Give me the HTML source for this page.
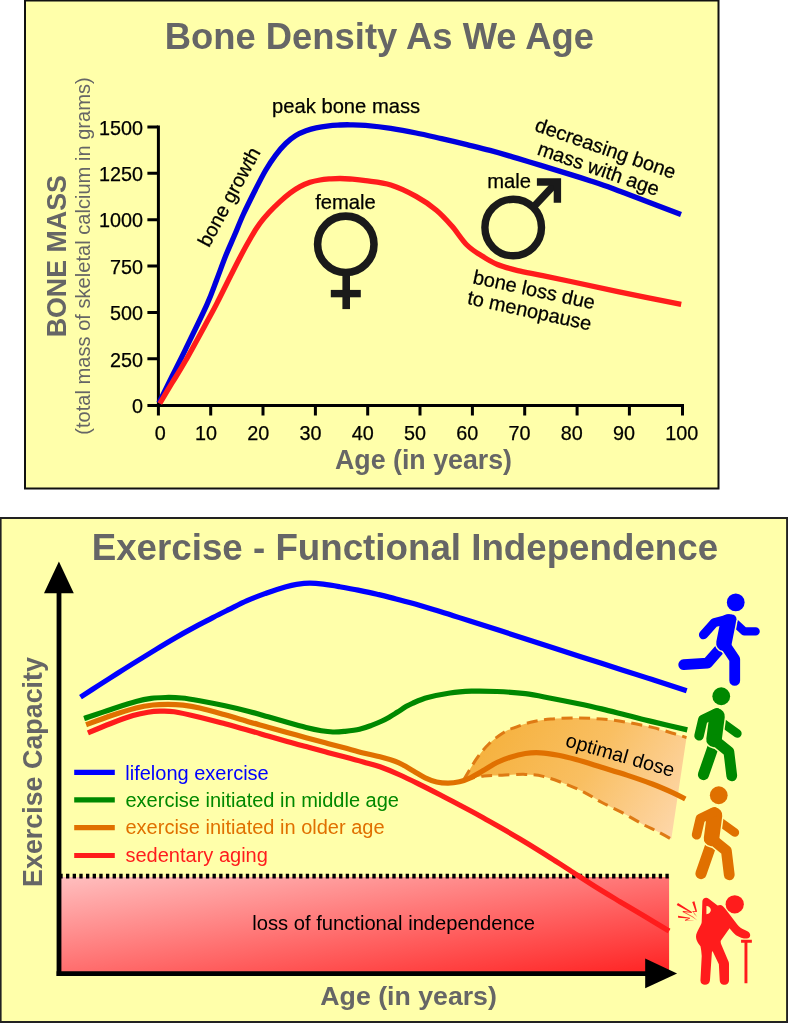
<!DOCTYPE html>
<html><head><meta charset="utf-8">
<style>
html,body{margin:0;padding:0;background:#fff;}
svg{display:block;will-change:transform;}
text{font-family:"Liberation Sans",sans-serif;}
.tk{font-size:19.8px;fill:#000;stroke:#000;stroke-width:0.25px;}
.lb{font-size:20.2px;fill:#000;stroke:#000;stroke-width:0.25px;}
</style></head>
<body>
<svg width="788" height="1023" viewBox="0 0 788 1023">
<!-- ===== TOP PANEL ===== -->
<rect x="25" y="0.5" width="693.5" height="488" fill="#ffffaa" stroke="#111" stroke-width="2"/>
<text x="379.4" y="48.7" text-anchor="middle" font-size="36.4" font-weight="bold" fill="#666">Bone Density As We Age</text>
<!-- axes -->
<g stroke="#000" stroke-width="3" fill="none">
<path d="M158.4 125.4V415.5"/>
<path d="M147.4 405.5H684"/>
<path d="M147.4 126.9H158M147.4 173.3H158M147.4 219.7H158M147.4 266.1H158M147.4 312.5H158M147.4 358.8H158"/>
<path d="M210.7 405V415.5M263 405V415.5M315.4 405V415.5M367.7 405V415.5M420 405V415.5M472.4 405V415.5M524.7 405V415.5M577.1 405V415.5M629.4 405V415.5M682.5 405V415.5"/>
</g>
<g class="tk" text-anchor="end" transform="translate(0.9 0.7)">
<text x="142" y="134">1500</text><text x="142" y="180.4">1250</text><text x="142" y="226.8">1000</text>
<text x="142" y="273.2">750</text><text x="142" y="319.6">500</text><text x="142" y="366">250</text><text x="142" y="412.3">0</text>
</g>
<g class="tk" text-anchor="middle">
<text x="160.2" y="439.5">0</text><text x="206.1" y="439.5">10</text><text x="258.3" y="439.5">20</text><text x="310.6" y="439.5">30</text><text x="362.8" y="439.5">40</text><text x="415.0" y="439.5">50</text><text x="467.2" y="439.5">60</text><text x="519.5" y="439.5">70</text><text x="571.7" y="439.5">80</text><text x="623.9" y="439.5">90</text><text x="681.7" y="439.5">100</text>
</g>
<!-- curves -->
<path id="blue1" d="M158.9 403.0 C161.1 398.6 167.6 385.4 172.0 376.5 C176.4 367.6 179.7 361.2 185.5 349.3 C191.3 337.4 201.6 316.4 206.8 304.9 C212.0 293.3 213.4 288.4 216.6 280.0 C219.8 271.6 223.1 262.2 226.1 254.8 C229.1 247.4 231.6 242.1 234.5 235.3 C237.4 228.5 240.0 221.6 243.5 214.0 C247.0 206.4 251.8 196.8 255.5 189.5 C259.2 182.2 262.2 176.2 265.5 170.5 C268.8 164.8 272.1 159.8 275.5 155.3 C278.9 150.8 282.3 146.8 285.7 143.5 C289.1 140.2 292.4 137.6 295.8 135.5 C299.2 133.4 302.6 132.1 306.0 130.8 C309.4 129.5 312.3 128.6 316.1 127.8 C319.9 127.0 324.8 126.3 328.8 125.8 C332.8 125.3 336.5 125.2 340.0 125.0 C343.5 124.8 345.8 124.7 350.0 124.8 C354.2 124.9 358.6 124.8 365.4 125.4 C372.2 126.0 382.4 127.1 390.8 128.4 C399.2 129.7 407.7 131.3 416.1 133.0 C424.6 134.7 433.0 136.7 441.5 138.6 C450.0 140.5 458.8 142.6 466.9 144.6 C475.0 146.6 481.5 148.1 490.0 150.4 C498.5 152.7 509.2 155.9 517.7 158.4 C526.2 160.9 532.1 162.7 540.8 165.4 C549.5 168.1 561.8 171.9 570.0 174.4 C578.2 176.9 583.0 178.4 590.0 180.7 C597.0 183.0 604.4 185.4 612.0 188.2 C619.6 191.0 624.3 192.9 635.8 197.3 C647.3 201.7 673.5 211.6 681.0 214.5" fill="none" stroke="#0000dd" stroke-width="5.3" stroke-linejoin="round"/>
<path id="red1" d="M159.8 403.5 C161.8 400.1 167.7 390.1 172.0 383.0 C176.3 375.9 179.1 372.1 185.5 360.8 C191.9 349.6 204.8 325.7 210.4 315.5 C216.0 305.3 215.8 305.4 218.8 299.5 C221.8 293.6 224.9 287.2 228.5 280.0 C232.1 272.8 236.8 263.4 240.6 256.2 C244.4 248.9 248.3 242.0 251.5 236.5 C254.7 231.0 257.1 227.3 260.0 223.3 C262.9 219.3 265.7 216.1 269.0 212.5 C272.3 208.9 276.5 204.8 280.0 201.6 C283.5 198.4 286.7 195.6 290.0 193.1 C293.3 190.6 296.7 188.4 300.0 186.6 C303.3 184.8 306.7 183.4 310.0 182.3 C313.3 181.2 316.5 180.6 320.0 180.0 C323.5 179.4 327.7 179.1 331.0 178.8 C334.3 178.6 336.8 178.5 340.0 178.5 C343.2 178.5 345.8 178.6 350.0 179.0 C354.2 179.4 358.6 179.7 365.4 180.7 C372.2 181.7 382.4 182.4 390.8 185.0 C399.2 187.6 408.5 192.2 416.1 196.4 C423.7 200.6 430.5 205.3 436.4 210.2 C442.3 215.1 446.6 220.0 451.7 225.8 C456.8 231.6 461.8 239.9 466.9 245.0 C472.0 250.1 477.0 252.9 482.1 256.1 C487.2 259.4 491.5 262.1 497.4 264.5 C503.3 266.9 510.6 268.8 517.7 270.6 C524.8 272.4 531.1 273.3 540.0 275.1 C548.9 276.9 557.2 278.6 570.8 281.5 C584.4 284.4 603.1 288.6 621.5 292.4 C639.9 296.2 671.2 302.3 681.2 304.3" fill="none" stroke="#ff1c1c" stroke-width="5.3" stroke-linejoin="round"/>


<!-- labels top -->
<g class="lb">
<text x="346.1" y="112.9" text-anchor="middle">peak bone mass</text>
<text transform="translate(208.9 248.2) rotate(-61.5)" style="font-size:19.9px">bone growth</text>
<text x="345.5" y="208.9" text-anchor="middle">female</text>
<text x="509.1" y="187.6" text-anchor="middle">male</text>
<g transform="translate(603.4 154.8) rotate(19.2)" text-anchor="middle" style="font-size:19.95px"><text y="0">decreasing bone</text><text y="21.5">mass with age</text></g>
<g transform="translate(532.7 296.3) rotate(12.2)" text-anchor="middle" style="font-size:19.95px"><text y="0">bone loss due</text><text y="21.4">to menopause</text></g>
</g>
<text transform="translate(65.8 256.2) rotate(-90)" text-anchor="middle" font-size="26.8" font-weight="bold" fill="#666">BONE MASS</text>
<text transform="translate(89.6 256) rotate(-90)" text-anchor="middle" font-size="20.1" fill="#666">(total mass of skeletal calcium in grams)</text>
<text x="423.5" y="468.8" text-anchor="middle" font-size="26.75" font-weight="bold" fill="#666">Age (in years)</text>
<!-- female symbol -->
<g stroke="#1a1a1a" fill="none" stroke-width="7.6">
<circle cx="345.8" cy="244.3" r="28.2"/>
<path d="M346.2 272V309.1"/>
<path d="M330.8 293.6H360.8" stroke-width="7.4"/>
</g>
<!-- male symbol -->
<g stroke="#1a1a1a" fill="none" stroke-width="7.4">
<circle cx="513.2" cy="227.5" r="28.3"/>
<path d="M533 207.5L556 183"/>
<path d="M536.9 182H557.4V202.7" stroke-linejoin="miter"/>
</g>

<!-- ===== BOTTOM PANEL ===== -->
<rect x="0.6" y="518" width="786.5" height="504" fill="#ffffaa" stroke="#222" stroke-width="2"/>

<defs>
<linearGradient id="rg" gradientUnits="userSpaceOnUse" x1="61" y1="878" x2="86.8" y2="1057">
<stop offset="0" stop-color="#ffbebe"/><stop offset="1" stop-color="#ff2222"/>
</linearGradient>
<linearGradient id="og" gradientUnits="userSpaceOnUse" x1="480" y1="725" x2="680" y2="845">
<stop offset="0" stop-color="#f5b03a"/><stop offset="0.5" stop-color="#f9bf62"/><stop offset="1" stop-color="#fed9b0"/>
</linearGradient>
</defs>
<text x="404.9" y="560.4" text-anchor="middle" font-size="36.72" font-weight="bold" fill="#666">Exercise - Functional Independence</text>
<!-- red zone -->
<rect x="60" y="877" width="609.1" height="96" fill="url(#rg)"/>
<path d="M59.35 876.1H672" stroke="#000" stroke-width="4.9" stroke-dasharray="3.33 3.33" fill="none"/>
<!-- optimal dose region -->
<path d="M463.9 779.5 C466.0 776.0 472.4 764.7 476.6 758.7 C480.8 752.7 484.7 748.0 489.3 743.5 C493.9 739.0 500.2 734.7 504.5 732.0 C508.8 729.3 510.9 729.0 515.2 727.4 C519.5 725.8 524.6 723.7 530.5 722.3 C536.4 720.9 543.2 719.7 550.8 719.0 C558.4 718.3 567.6 718.0 576.1 718.0 C584.6 718.0 593.0 718.3 601.5 719.0 C610.0 719.7 618.4 720.9 626.9 722.3 C635.4 723.7 644.7 725.6 652.3 727.4 C659.9 729.2 666.9 731.5 672.6 733.2 C678.3 734.9 684.2 736.9 686.5 737.6 L671.3 839.1 C669.0 837.8 662.3 834.0 657.4 831.5 C652.5 829.0 648.0 827.1 642.1 823.9 C636.2 820.7 628.6 816.0 621.8 812.4 C615.0 808.8 607.8 805.7 601.5 802.3 C595.2 798.9 590.1 795.3 583.8 792.1 C577.5 788.9 570.3 785.8 563.5 783.2 C556.7 780.6 549.5 777.9 543.1 776.4 C536.8 774.9 532.2 774.6 525.4 774.4 C518.5 774.2 508.9 775.0 502.0 775.2 C495.1 775.5 490.6 775.2 484.2 775.9 C477.8 776.6 467.3 778.9 463.9 779.5 Z" fill="url(#og)"/>
<path d="M463.9 779.5 C466.0 776.0 472.4 764.7 476.6 758.7 C480.8 752.7 484.7 748.0 489.3 743.5 C493.9 739.0 500.2 734.7 504.5 732.0 C508.8 729.3 510.9 729.0 515.2 727.4 C519.5 725.8 524.6 723.7 530.5 722.3 C536.4 720.9 543.2 719.7 550.8 719.0 C558.4 718.3 567.6 718.0 576.1 718.0 C584.6 718.0 593.0 718.3 601.5 719.0 C610.0 719.7 618.4 720.9 626.9 722.3 C635.4 723.7 644.7 725.6 652.3 727.4 C659.9 729.2 666.9 731.5 672.6 733.2 C678.3 734.9 684.2 736.9 686.5 737.6" fill="none" stroke="#de7a14" stroke-width="3" stroke-dasharray="11 6.5"/>
<path d="M463.9 779.5 C467.3 778.9 477.8 776.6 484.2 775.9 C490.6 775.2 495.1 775.5 502.0 775.2 C508.9 775.0 518.5 774.2 525.4 774.4 C532.2 774.6 536.8 774.9 543.1 776.4 C549.5 777.9 556.7 780.6 563.5 783.2 C570.3 785.8 577.5 788.9 583.8 792.1 C590.1 795.3 595.2 798.9 601.5 802.3 C607.8 805.7 615.0 808.8 621.8 812.4 C628.6 816.0 636.2 820.7 642.1 823.9 C648.0 827.1 652.5 829.0 657.4 831.5 C662.3 834.0 669.0 837.8 671.3 839.1" fill="none" stroke="#de7a14" stroke-width="3" stroke-dasharray="11 6.5"/>
<!-- curves -->
<g fill="none" stroke-width="5.2" stroke-linejoin="round">
<path d="M84.1 718.5 C88.5 717.0 102.1 712.2 110.8 709.4 C119.5 706.6 129.4 703.3 136.1 701.5 C142.8 699.7 146.3 699.1 151.2 698.4 C156.1 697.7 160.3 697.6 165.4 697.5 C170.5 697.4 176.0 697.5 181.7 698.0 C187.4 698.5 192.4 699.4 199.6 700.7 C206.8 702.0 216.8 704.0 225.0 705.8 C233.2 707.6 241.8 709.6 249.0 711.4 C256.2 713.2 261.8 715.0 268.1 716.8 C274.5 718.6 280.8 720.5 287.1 722.3 C293.4 724.1 300.4 726.1 306.1 727.5 C311.8 728.9 316.9 730.0 321.4 730.8 C325.8 731.5 329.0 731.9 332.8 732.0 C336.6 732.1 339.8 731.9 344.2 731.4 C348.6 730.9 355.1 730.2 359.5 729.2 C363.9 728.2 367.1 727.0 370.9 725.6 C374.6 724.2 378.8 722.5 382.0 721.0 C385.2 719.5 387.5 718.2 390.0 716.8 C392.5 715.3 394.5 714.0 397.2 712.3 C399.9 710.6 403.5 708.1 406.0 706.6 C408.5 705.1 408.8 704.8 412.4 703.3 C416.0 701.8 421.4 699.3 427.7 697.6 C434.0 695.9 442.7 694.1 450.0 693.0 C457.3 691.9 463.7 691.5 471.5 691.2 C479.3 691.0 487.9 691.1 496.9 691.5 C505.9 691.9 516.4 692.6 525.4 693.7 C534.4 694.8 542.3 696.6 550.8 698.2 C559.2 699.8 567.6 701.5 576.1 703.3 C584.6 705.1 593.0 706.9 601.5 708.9 C610.0 710.9 618.4 713.1 626.9 715.2 C635.4 717.3 642.2 719.2 652.3 721.6 C662.4 724.0 681.5 728.5 687.3 729.9" stroke="#008800"/>
<path d="M86.1 724.8 C90.2 723.3 102.5 718.6 110.8 715.8 C119.1 713.0 129.1 709.8 136.1 708.0 C143.1 706.2 147.7 705.6 153.0 705.0 C158.3 704.4 163.0 704.4 168.0 704.4 C173.0 704.4 177.7 704.6 183.0 705.2 C188.3 705.8 192.6 706.4 199.6 708.0 C206.6 709.6 216.8 712.5 225.0 714.8 C233.2 717.1 241.8 719.8 249.0 721.9 C256.2 724.0 261.8 725.4 268.1 727.2 C274.5 729.0 280.8 730.8 287.1 732.5 C293.4 734.2 299.8 736.0 306.1 737.7 C312.5 739.4 318.9 741.1 325.2 742.8 C331.5 744.5 337.8 746.1 344.2 747.8 C350.6 749.5 357.3 751.4 363.3 752.9 C369.3 754.4 374.7 755.4 380.0 756.8 C385.3 758.2 391.3 760.0 395.0 761.3 C398.7 762.6 399.2 762.9 402.3 764.5 C405.4 766.1 410.0 769.0 413.8 771.2 C417.6 773.4 421.4 776.0 425.2 777.8 C429.0 779.6 432.8 781.1 436.6 782.0 C440.4 782.9 444.2 783.2 448.0 783.2 C451.8 783.2 455.6 782.7 459.4 781.8 C463.2 780.9 466.8 779.5 470.9 777.6 C475.0 775.7 479.9 772.6 484.2 770.1 C488.5 767.6 492.7 764.6 496.9 762.5 C501.1 760.4 504.9 758.9 509.6 757.4 C514.4 755.9 520.2 754.3 525.4 753.5 C530.6 752.7 535.1 752.5 540.6 752.8 C546.1 753.1 552.5 754.2 558.4 755.3 C564.3 756.4 568.9 757.6 576.1 759.6 C583.3 761.6 593.0 764.7 601.5 767.3 C610.0 769.9 618.4 772.3 626.9 775.1 C635.4 777.9 644.7 781.1 652.3 784.0 C659.9 786.9 667.1 790.1 672.6 792.6 C678.1 795.1 683.2 797.9 685.3 799.0" stroke="#e07000"/>
<path d="M87.9 732.9 C91.7 731.3 103.3 726.4 110.8 723.5 C118.3 720.6 126.8 717.5 133.0 715.6 C139.2 713.7 143.5 712.9 148.0 712.2 C152.5 711.5 155.6 711.3 160.0 711.2 C164.4 711.1 167.6 710.8 174.2 711.8 C180.8 712.8 191.1 715.2 199.6 717.2 C208.1 719.2 216.8 721.6 225.0 723.8 C233.2 726.0 241.8 728.5 249.0 730.5 C256.2 732.5 261.8 734.2 268.1 736.0 C274.5 737.8 280.8 739.6 287.1 741.4 C293.4 743.2 299.8 744.9 306.1 746.6 C312.5 748.3 318.9 750.1 325.2 751.8 C331.5 753.5 337.8 755.1 344.2 756.8 C350.6 758.5 357.3 760.3 363.3 762.0 C369.3 763.7 373.9 764.6 380.0 766.8 C386.1 769.0 393.3 772.0 400.0 775.0 C406.7 778.0 413.3 781.3 420.0 784.6 C426.7 787.9 433.3 791.3 440.0 794.8 C446.7 798.2 453.3 801.8 460.0 805.3 C466.7 808.8 473.3 812.3 480.0 816.0 C486.7 819.7 493.3 823.5 500.0 827.3 C506.7 831.1 513.3 835.0 520.0 839.0 C526.7 843.0 534.2 847.6 540.0 851.2 C545.8 854.8 550.0 857.5 555.0 860.7 C560.0 863.9 563.3 866.1 570.0 870.4 C576.7 874.7 586.7 881.3 595.0 886.5 C603.3 891.7 611.7 896.7 620.0 901.7 C628.3 906.7 636.8 911.7 645.0 916.6 C653.2 921.5 665.1 928.7 669.1 931.1" stroke="#ff1c1c"/>
<path d="M80.5 697.1 C83.5 695.1 92.4 689.4 98.6 685.4 C104.8 681.4 111.3 677.3 117.6 673.3 C123.9 669.3 130.2 665.3 136.6 661.4 C142.9 657.5 149.3 653.5 155.7 649.6 C162.0 645.7 168.4 641.9 174.7 638.2 C181.0 634.5 187.3 631.0 193.7 627.6 C200.0 624.2 207.1 620.6 212.8 617.6 C218.5 614.6 222.4 612.7 228.1 609.9 C233.8 607.1 240.8 603.4 247.1 600.6 C253.4 597.8 259.8 595.5 266.1 593.2 C272.5 591.0 280.1 588.6 285.2 587.1 C290.3 585.6 292.5 585.0 296.6 584.4 C300.7 583.8 305.4 583.2 309.9 583.2 C314.3 583.2 318.4 583.6 323.3 584.2 C328.2 584.8 333.2 585.6 339.0 586.6 C344.8 587.6 351.8 588.8 358.1 590.1 C364.5 591.4 370.8 592.7 377.1 594.2 C383.4 595.7 389.8 597.2 396.1 598.9 C402.5 600.5 408.9 602.3 415.2 604.1 C421.5 605.9 427.8 607.8 434.2 609.7 C440.6 611.6 447.3 613.8 453.3 615.7 C459.3 617.6 462.2 618.5 470.0 621.0 C477.8 623.5 485.9 626.1 500.0 630.6 C514.1 635.1 537.7 642.8 554.6 648.2 C571.5 653.7 585.2 658.1 601.5 663.3 C617.8 668.5 638.1 675.0 652.3 679.6 C666.5 684.2 681.0 688.9 686.7 690.7" stroke="#0000ff"/>
</g>
<!-- axes -->
<path d="M59 593V975.9" stroke="#000" stroke-width="4.8" fill="none"/>
<path d="M56.6 973.6H646" stroke="#000" stroke-width="4.6" fill="none"/>
<path d="M58.9 561.4L73.8 593.3H44Z" fill="#000"/>
<path d="M677.1 973.4L645.2 958.5V988.3Z" fill="#000"/>
<!-- legend -->
<g fill="none" stroke-width="5.2">
<path d="M74.2 772.4H114.8" stroke="#0000ff"/>
<path d="M74.2 799.8H114.8" stroke="#008800"/>
<path d="M74.2 827.6H114.8" stroke="#e07000"/>
<path d="M74.2 855.5H114.8" stroke="#ff1c1c"/>
</g>
<g font-size="20">
<text x="125.3" y="779.5" fill="#0000ff">lifelong exercise</text>
<text x="125.5" y="806.9" fill="#008800">exercise initiated in middle age</text>
<text x="125.5" y="834.3" fill="#e07000">exercise initiated in older age</text>
<text x="125.5" y="862.1" fill="#ff1c1c">sedentary aging</text>
</g>
<text transform="translate(564.6 746.1) rotate(16)" font-size="19.8" fill="#000">optimal dose</text>
<text x="393.6" y="929.7" text-anchor="middle" font-size="20.2" fill="#000">loss of functional independence</text>
<text transform="translate(42 772) rotate(-90)" text-anchor="middle" font-size="26.85" font-weight="bold" fill="#666">Exercise Capacity</text>
<text x="408.6" y="1004.8" text-anchor="middle" font-size="26.7" font-weight="bold" fill="#666">Age (in years)</text>

<!-- runner -->
<g transform="translate(670 585) scale(0.1269)" fill="none" stroke="#0000ff" stroke-linecap="round" stroke-linejoin="round">
<circle cx="518" cy="137" r="70" fill="#0000ff" stroke="none"/>
<path d="M520 305L586 366L675 366" stroke-width="65"/>
<path d="M410 485L295 616L108 628" stroke-width="85"/>
<g stroke="#ffffaa"><path d="M458 292L425 458" stroke-width="146"/><path d="M486 270h0.1" stroke-width="100"/><path d="M428 462L510 585" stroke-width="109"/></g>
<path d="M458 292L425 458" stroke-width="122"/><path d="M486 270h0.1" stroke-width="76"/>
<path d="M470 266L350 296L264 392" stroke-width="72"/>
<path d="M428 462L510 585L510 752" stroke-width="85"/>
</g>
<!-- walkers -->
<g transform="translate(680 680) scale(0.1269)" fill="none" stroke="#008800" stroke-linecap="round" stroke-linejoin="round">
<circle cx="325" cy="128" r="70" fill="#008800" stroke="none"/>
<path d="M318 325L452 422" stroke-width="68"/>
<path d="M272 495L185 745" stroke-width="88"/>
<g stroke="#ffffaa"><path d="M292 285L268 468" stroke-width="146"/><path d="M270 472L385 565" stroke-width="109"/></g>
<path d="M292 285L268 468" stroke-width="122"/>
<path d="M290 258L180 312L150 440" stroke-width="75"/>
<path d="M270 472L385 565L408 755" stroke-width="85"/>
</g>
<g transform="translate(677.5 779) scale(0.1269)" fill="none" stroke="#e07000" stroke-linecap="round" stroke-linejoin="round">
<circle cx="325" cy="128" r="70" fill="#e07000" stroke="none"/>
<path d="M318 325L452 422" stroke-width="68"/>
<path d="M272 495L185 745" stroke-width="88"/>
<g stroke="#ffffaa"><path d="M292 285L268 468" stroke-width="146"/><path d="M270 472L385 565" stroke-width="109"/></g>
<path d="M292 285L268 468" stroke-width="122"/>
<path d="M290 258L180 312L150 440" stroke-width="75"/>
<path d="M270 472L385 565L408 755" stroke-width="85"/>
</g>
<!-- old person -->
<g transform="translate(670 885) scale(0.1269)" fill="#ff1c1c" stroke="none">
<circle cx="510" cy="152" r="72"/>
<path fill-rule="evenodd" d="M255 130C255 105 285 92 305 108L375 162L395 158C410 158 420 170 435 188L470 232L530 312C545 332 565 345 590 355L610 365C640 378 640 420 605 422C575 422 545 410 520 395C500 380 485 360 470 340L400 440C398 450 400 460 405 470L455 590C462 605 465 612 465 625L465 750C465 798 392 798 392 750L385 625L335 520L330 532L315 750C312 798 238 798 240 750L250 560C248 530 245 505 240 482C225 460 205 440 205 405C205 375 230 345 240 320C248 305 250 295 250 285Z M287 165V230C305 230 322 215 322 197C322 180 305 165 287 165Z"/>
<path d="M560 432H645V455H610V775H587V455H560Z"/>
<g fill="#ff1c1c" stroke="none">
<path d="M52.6 157.2 L63.0 142.8 L172.6 213.2 L169.4 220.4Z"/>
<path d="M99.0 213.2 L103.0 204.4 L171.8 213.2 L170.2 219.6Z"/>
<path d="M99.0 213.2 L104.6 206.0 L179.8 248.8 L215.8 278.8 L173.8 251.6Z" opacity="0.75"/>
<path d="M175.0 134.8 L192.6 128.4 L212.6 208.4 L202.2 210.8Z"/>
<path d="M177.8 206.0 L211.8 204.4 L211.8 211.6 L177.8 212.4Z"/>
<path d="M177.8 207.6 L183.8 206.0 L215.8 254.8 L191.8 230.8Z" opacity="0.6"/>
<path d="M63.0 242.0 L64.6 257.2 L155.0 263.6 L155.0 257.2Z"/>
<path d="M155.0 257.2 L156.6 263.6 L123.0 282.0 L116.6 276.4Z"/>
<path d="M117.8 276.4 L120.6 282.0 L185.8 280.4 L185.8 278.0Z" opacity="0.6"/>
</g>
</g>

</svg>
</body></html>
